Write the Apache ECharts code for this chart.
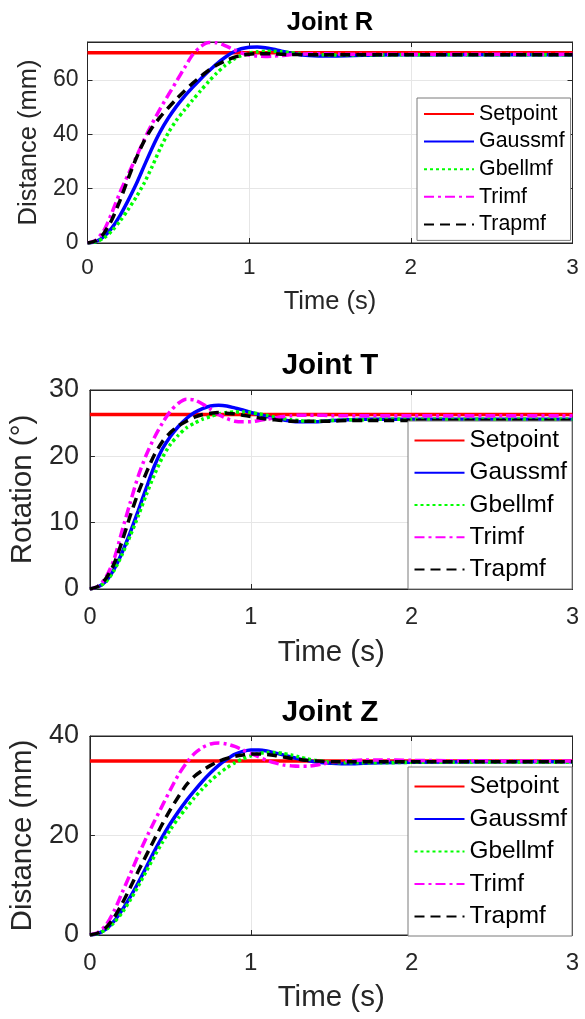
<!DOCTYPE html>
<html>
<head>
<meta charset="utf-8">
<script src="https://cdn.jsdelivr.net/npm/echarts@6/dist/echarts.min.js"></script>
<style>
  html, body { margin: 0; padding: 0; background: #ffffff; }
  #chart { width: 585px; height: 1019px; }
</style>
</head>
<body>
<div id="chart"></div>
<script>
// Sample times (s)
const time = [0,0.05,0.1,0.15,0.2,0.25,0.3,0.35,0.4,0.45,0.5,0.55,0.6,0.65,0.7,0.75,0.8,0.85,0.9,0.95,
              1,1.05,1.1,1.15,1.2,1.25,1.3,1.35,1.4,1.45,1.5,1.6,1.7,1.8,2,2.5,3];

const seriesNames = ['Setpoint', 'Gaussmf', 'Gbellmf', 'Trimf', 'Trapmf'];
const xTicks = [0, 1, 2, 3];

// Joint R — distance (mm)
const setpointR = 70;
const gaussR = [0,0.5,2.3,5.5,10,15.5,21.5,28.3,35,41,46,50.3,54,57.3,60.4,63.3,66,68.3,70.2,71.5,
                72.1,72.2,71.9,71.3,70.6,70,69.5,69.1,68.9,68.8,68.8,68.9,69.1,69.2,69.3,69.3,69.3];
const gbellR = [0,0.4,1.8,4.4,8,12.2,16.8,22,28.2,34.8,40.6,45.2,49,52.6,56.1,59.5,62.6,65.3,67.5,69,
                69.9,70.4,70.6,70.6,70.4,70.1,69.8,69.6,69.4,69.3,69.2,69.2,69.2,69.2,69.3,69.3,69.3];
const trimfR = [0,1,4.5,11,18.5,25,31.5,38,44,49.5,54.5,59.5,64.5,69.3,72.3,73.8,73.7,72.7,71.3,70,
                69.2,68.8,68.7,68.8,69,69.3,69.5,69.6,69.7,69.7,69.6,69.5,69.5,69.5,69.5,69.5,69.5];
const trapR  = [0,0.8,3.5,8.5,15.5,23.5,31,37.5,42.5,46.4,49.8,53,56,58.8,61.3,63.6,65.5,67,68.2,69,
                69.5,69.7,69.7,69.6,69.5,69.4,69.4,69.3,69.3,69.3,69.3,69.3,69.3,69.3,69.3,69.3,69.3];

// Joint T — rotation (°)
const setpointT = 26.3;
const gaussT = [0,0.3,1.2,3,5.5,8.5,11.8,15.2,18.5,21.1,23,24.5,25.7,26.6,27.2,27.6,27.7,27.6,27.3,27,
                26.6,26.3,26,25.7,25.5,25.3,25.2,25.2,25.2,25.3,25.4,25.5,25.6,25.6,25.6,25.6,25.6];
const gbellT = [0,0.3,1.1,2.8,5.2,8,11,14.2,17.2,19.8,21.8,23.2,24.3,25,25.6,26,26.4,26.6,26.7,26.7,
                26.6,26.4,26.2,25.9,25.7,25.5,25.4,25.3,25.3,25.3,25.4,25.5,25.5,25.6,25.6,25.6,25.6];
const trimfT = [0,0.4,1.8,4.5,8.8,13,17,20.2,22.8,25,26.8,28,28.6,28.5,27.9,27.1,26.3,25.7,25.3,25.2,
                25.2,25.4,25.6,25.8,26,26.1,26.2,26.2,26.2,26.2,26.1,26.1,26.1,26.1,26.1,26.1,26.1];
const trapT  = [0,0.4,1.6,3.8,7.2,11,14.5,17.5,20.2,22.2,23.6,24.6,25.3,25.9,26.3,26.5,26.6,26.5,26.4,26.2,
                26,25.8,25.6,25.5,25.4,25.3,25.3,25.3,25.3,25.3,25.3,25.4,25.4,25.4,25.4,25.4,25.4];

// Joint Z — distance (mm)
const setpointZ = 35;
const gaussZ = [0,0.3,1.2,2.8,5,7.6,10.5,13.6,16.8,19.7,22.4,24.8,27,29,30.9,32.6,34.1,35.3,36.3,36.9,
                37.2,37.2,37,36.6,36.2,35.8,35.4,35.1,34.8,34.6,34.5,34.4,34.5,34.6,34.7,34.8,34.8];
const gbellZ = [0,0.3,1.1,2.5,4.5,7,9.8,12.8,15.8,18.6,21.2,23.5,25.6,27.6,29.4,31,32.4,33.6,34.6,35.4,
                36,36.5,36.7,36.7,36.5,36.2,35.8,35.4,35.1,34.9,34.7,34.6,34.6,34.6,34.7,34.7,34.7];
const trimfZ = [0,0.5,2,4.8,8.5,12.2,16,19.5,22.8,26,29.2,32.2,34.6,36.5,37.7,38.4,38.6,38.4,37.9,37.2,
                36.5,35.8,35.1,34.6,34.2,34,33.9,33.9,34.1,34.4,34.7,35,35.2,35.2,35.1,35,35];
const trapZ  = [0,0.4,1.5,3.5,6.3,9.5,12.8,16,19.2,22.3,25.2,27.8,30.2,31.9,33.1,34.1,34.9,35.5,35.9,36.2,
                36.4,36.4,36.3,36.1,35.8,35.5,35.3,35.1,35,34.9,34.8,34.8,34.8,34.8,34.8,34.8,34.8];

const yTicksR = [0, 20, 40, 60];
const yTicksT = [0, 10, 20, 30];
const yTicksZ = [0, 20, 40];

const panels = [
  { title: 'Joint R', yName: 'Distance (mm)', yMax: 74, yTicks: yTicksR, setpoint: setpointR,
    curves: [gaussR, gbellR, trimfR, trapR],
    lay: { top: 42, height: 201, titleTop: 9.5, titleSize: 25.5, nameSize: 25.5, xTick: 22.5, yTick: 23,
           xNameGap: 46, yNameGap: 43, xMargin: 13, yMargin: 9,
           legLeft: 417, legTop: 98, legFont: 21.4, legLine: 22, legGap: 5.6, legPad: [5, 6, 5, 6] } },
  { title: 'Joint T', yName: 'Rotation (°)', yMax: 30, yTicks: yTicksT, setpoint: setpointT,
    curves: [gaussT, gbellT, trimfT, trapT],
    lay: { top: 390, height: 199, titleTop: 351, titleSize: 29.5, nameSize: 29.5, xTick: 23.5, yTick: 27,
           xNameGap: 49, yNameGap: 48, xMargin: 17, yMargin: 11,
           legLeft: 408, legTop: 421, legFont: 24.4, legLine: 26, legGap: 6.25, legPad: [6.5, 5, 6.5, 5.5] } },
  { title: 'Joint Z', yName: 'Distance (mm)', yMax: 40, yTicks: yTicksZ, setpoint: setpointZ,
    curves: [gaussZ, gbellZ, trimfZ, trapZ],
    lay: { top: 736, height: 199, titleTop: 698, titleSize: 29.5, nameSize: 29.5, xTick: 24, yTick: 27,
           xNameGap: 48, yNameGap: 48.5, xMargin: 16, yMargin: 11,
           legLeft: 408, legTop: 767, legFont: 24.4, legLine: 26, legGap: 6.5, legPad: [6.5, 5, 6.5, 5.5] } }
];

const FONT = '"Liberation Sans", Arial, Helvetica, sans-serif';
const INK = '#262626';
const GRID_LINE = '#e6e6e6';
const PLOT_LEFT = 87.5, PLOT_RIGHT = 572.5, CHART_W = 585;
const LINE_W = 3.5;

const lineStyles = [
  { color: '#ff0000', type: 'solid' },
  { color: '#0000ff', type: 'solid' },
  { color: '#00ff00', type: [3, 3] },
  { color: '#ff00ff', type: [10, 4, 3, 4] },
  { color: '#000000', type: [10, 6] }
];

const grid = [], xAxis = [], yAxis = [], series = [], title = [], legend = [];

panels.forEach((p, i) => {
  const L = p.lay;
  const yStep = p.yTicks[1] - p.yTicks[0];
  grid.push({ left: PLOT_LEFT, right: CHART_W - PLOT_RIGHT, top: L.top, height: L.height,
              show: true, borderColor: INK, borderWidth: 1, backgroundColor: 'transparent' });

  title.push({ text: p.title, left: (PLOT_LEFT + PLOT_RIGHT) / 2, top: L.titleTop, textAlign: 'center',
               padding: 0,
               textStyle: { fontFamily: FONT, fontSize: L.titleSize, fontWeight: 'bold', color: '#000' } });

  const tickStyle = { inside: true, length: 5, lineStyle: { color: INK, width: 1 } };
  const axLine = { show: true, onZero: false, lineStyle: { color: INK, width: 1 } };

  xAxis.push({
    gridIndex: i, type: 'value', position: 'bottom', min: xTicks[0], max: xTicks[xTicks.length - 1], interval: 1,
    axisLine: axLine, axisTick: tickStyle,
    axisLabel: { fontFamily: FONT, fontSize: L.xTick, color: INK, margin: L.xMargin },
    splitLine: { show: true, lineStyle: { color: GRID_LINE, width: 1 } },
    name: 'Time (s)', nameLocation: 'middle', nameGap: L.xNameGap,
    nameTextStyle: { fontFamily: FONT, fontSize: L.nameSize, color: INK }
  });
  xAxis.push({
    gridIndex: i, type: 'value', position: 'top', min: xTicks[0], max: xTicks[xTicks.length - 1], interval: 1,
    axisLine: axLine, axisTick: tickStyle, axisLabel: { show: false }, splitLine: { show: false }
  });

  yAxis.push({
    gridIndex: i, type: 'value', position: 'left', min: 0, max: p.yMax, interval: yStep,
    axisLine: axLine, axisTick: tickStyle,
    axisLabel: { fontFamily: FONT, fontSize: L.yTick, color: INK, margin: L.yMargin,
                 formatter: v => (p.yTicks.indexOf(v) >= 0 ? String(v) : '') },
    splitLine: { show: true, lineStyle: { color: GRID_LINE, width: 1 } },
    name: p.yName, nameLocation: 'middle', nameGap: L.yNameGap,
    nameTextStyle: { fontFamily: FONT, fontSize: L.nameSize, color: INK }
  });
  yAxis.push({
    gridIndex: i, type: 'value', position: 'right', min: 0, max: p.yMax, interval: yStep,
    axisLine: axLine, axisTick: tickStyle, axisLabel: { show: false }, splitLine: { show: false }
  });

  const xi = 2 * i, yi = 2 * i;
  series.push({
    name: seriesNames[0], type: 'line', xAxisIndex: xi, yAxisIndex: yi,
    data: [[xTicks[0], p.setpoint], [xTicks[xTicks.length - 1], p.setpoint]],
    symbol: 'none', lineStyle: { width: LINE_W, color: lineStyles[0].color, type: lineStyles[0].type, cap: 'butt' },
    itemStyle: { color: lineStyles[0].color }, animation: false, z: 2
  });
  p.curves.forEach((vals, k) => {
    const st = lineStyles[k + 1];
    series.push({
      name: seriesNames[k + 1], type: 'line', xAxisIndex: xi, yAxisIndex: yi,
      data: time.map((t, j) => [t, vals[j]]), smooth: 0.25,
      symbol: 'none', lineStyle: { width: LINE_W, color: st.color, type: st.type, cap: 'butt' },
      itemStyle: { color: st.color }, animation: false, z: 3 + k
    });
  });

  legend.push({
    data: seriesNames, orient: 'vertical', left: L.legLeft, top: L.legTop,
    itemWidth: 50, itemHeight: 14, itemGap: L.legGap, padding: L.legPad,
    backgroundColor: '#ffffff', borderColor: '#7a7a7a', borderWidth: 1, borderRadius: 0,
    selectedMode: false, itemStyle: { opacity: 0 },
    textStyle: { fontFamily: FONT, fontSize: L.legFont, color: '#000', lineHeight: L.legLine, padding: [0, 0, 0, 0] },
    z: 10
  });
});

const chart = echarts.init(document.getElementById('chart'), null, { renderer: 'canvas' });
chart.setOption({ animation: false, backgroundColor: '#ffffff', title, grid, xAxis, yAxis, legend, series });
</script>
</body>
</html>
